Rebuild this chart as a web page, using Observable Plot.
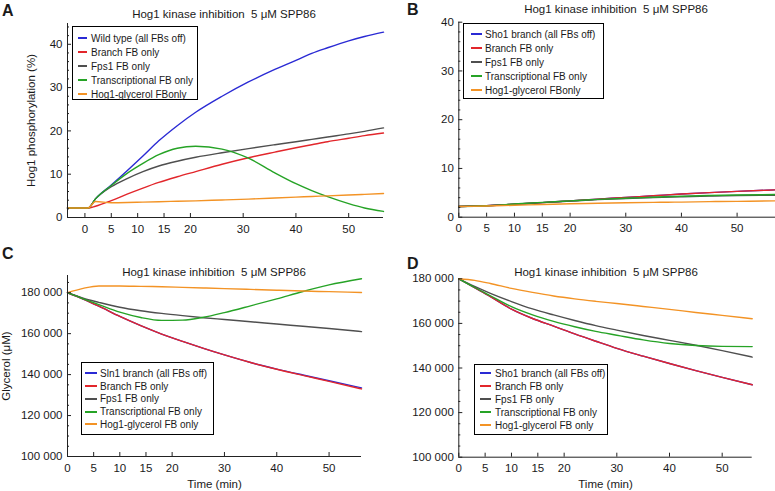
<!DOCTYPE html>
<html><head><meta charset="utf-8">
<script src="https://cdn.jsdelivr.net/npm/d3@7"></script>
<script src="https://cdn.jsdelivr.net/npm/@observablehq/plot@0.6"></script>
<style>
body{margin:0;background:#fff;}
#fig{position:relative;width:775px;height:491px;overflow:hidden;font-family:"Liberation Sans",Arial,sans-serif;color:#1a1a1a;background:#fff;}
.panel{position:absolute;}
.title{position:absolute;font-size:11.5px;white-space:pre;transform:translate(-50%,-50%);line-height:1;}
.letter{position:absolute;font-weight:bold;font-size:16px;line-height:1;}
.legend{position:absolute;border:1px solid #000;box-sizing:border-box;font-size:10px;background:#fff;}
.row{display:flex;align-items:center;white-space:nowrap;box-sizing:border-box;}
.sw{display:inline-block;height:2px;flex:none;}
</style></head><body><div id="fig"></div><script>
// ---------- data ----------
const seriesColors = ["#2a2ad4", "#e2262b", "#4f4f4f", "#26a326", "#f39325"];
const titleText = "Hog1 kinase inhibition  5 \u03bcM SPP86";
const xTicks = [0, 5, 10, 15, 20, 30, 40, 50];

// Panel A: Hog1 phosphorylation (%), Sln1 wild type
const tA = [-3.3, 0.6, 2, 5, 8, 11, 14, 17.5, 21, 26, 31, 36, 40, 43, 46, 50, 53, 56.6];
const aWild   = [2.2, 2.2, 4.3, 7.5, 10.8, 14.2, 17.7, 21.2, 24.3, 28.0, 31.3, 34.2, 36.3, 37.9, 39.2, 40.8, 41.8, 42.8];
const aBranch = [2.2, 2.2, 2.6, 3.9, 5.4, 6.8, 8.1, 9.4, 10.6, 12.3, 13.8, 15.1, 16.1, 16.8, 17.5, 18.3, 18.9, 19.5];
const aFps1   = [2.2, 2.2, 4.3, 7.1, 9.0, 10.6, 11.9, 13.0, 13.9, 14.95, 15.9, 16.8, 17.5, 18.05, 18.6, 19.3, 19.9, 20.7];
const aTransc = [2.2, 2.2, 4.3, 7.4, 10.2, 12.5, 14.5, 16.0, 16.45, 15.8, 13.7, 10.3, 7.8, 6.2, 4.8, 3.2, 2.2, 1.4];
const aGlyc   = [2.2, 2.2, 3.7, 3.4, 3.45, 3.55, 3.65, 3.75, 3.85, 4.05, 4.25, 4.5, 4.7, 4.85, 5.0, 5.2, 5.35, 5.55];
const aLabels = ["Wild type (all FBs off)", "Branch FB only", "Fps1 FB only", "Transcriptional FB only", "Hog1-glycerol FBonly"];

// Panel B: Hog1 phosphorylation (%), Sho1 branch
const tB = [0, 5, 10, 15, 20, 25, 30, 35, 40, 45, 50, 56.9];
const bSho1   = [2.2, 2.35, 2.65, 3.0, 3.35, 3.7, 4.05, 4.4, 4.75, 5.05, 5.3, 5.6];
const bBranch = [2.2, 2.35, 2.65, 3.0, 3.35, 3.7, 4.05, 4.4, 4.75, 5.05, 5.3, 5.6];
const bFps1   = [2.2, 2.35, 2.65, 3.0, 3.3, 3.6, 3.85, 4.05, 4.2, 4.35, 4.45, 4.5];
const bTransc = [2.2, 2.35, 2.7, 3.05, 3.35, 3.65, 3.9, 4.1, 4.3, 4.45, 4.55, 4.65];
const bGlyc   = [2.2, 2.3, 2.45, 2.6, 2.75, 2.85, 2.95, 3.05, 3.1, 3.2, 3.25, 3.35];
const bLabels = ["Sho1 branch (all FBs off)", "Branch FB only", "Fps1 FB only", "Transcriptional FB only", "Hog1-glycerol FBonly"];

// Panel C: Glycerol (uM), Sln1 branch
const tC = [0, 3, 6, 10, 14, 18, 22, 26, 30, 35, 40, 45, 50, 56.2];
const cSln1   = [180000, 176900, 173400, 168400, 163900, 159800, 156200, 152800, 149600, 145900, 142700, 139800, 137000, 133500];
const cBranch = [180000, 176900, 173400, 168400, 163900, 159800, 156200, 152800, 149600, 145900, 142600, 139600, 136700, 133000];
const cFps1   = [180000, 177300, 175300, 172900, 171200, 169900, 168800, 167800, 166900, 165800, 164700, 163600, 162500, 161000];
const cTransc = [180000, 177000, 174200, 170500, 167900, 166500, 166600, 168000, 170300, 173600, 177000, 180600, 183800, 186800];
const cGlyc   = [180000, 182100, 183300, 183300, 183100, 182900, 182600, 182300, 182000, 181600, 181200, 180800, 180500, 180100];
const cLabels = ["Sln1 branch (all FBs off)", "Branch FB only", "Fps1 FB only", "Transcriptional FB only", "Hog1-glycerol FB only"];

// Panel D: Glycerol (uM), Sho1 branch
const tD = [0, 3, 6, 10, 14, 18, 22, 26, 30, 35, 40, 45, 50, 55.7];
const dSho1   = [180000, 176000, 172000, 166400, 162200, 158800, 155300, 152000, 148800, 145300, 142000, 138800, 135800, 132500];
const dBranch = [180000, 176000, 172000, 166400, 162200, 158800, 155300, 152000, 148800, 145300, 142000, 138800, 135800, 132500];
const dFps1   = [180000, 176600, 173500, 169800, 166500, 163800, 161300, 159000, 157000, 154600, 152400, 150200, 147800, 144900];
const dTransc = [180000, 176100, 172400, 167500, 163800, 160900, 158500, 156400, 154700, 152600, 151000, 150100, 149700, 149600];
const dGlyc   = [180000, 179300, 177900, 175700, 173900, 172300, 171000, 169900, 168900, 167600, 166300, 164900, 163600, 162100];
const dLabels = ["Sho1 branch (all FBs off)", "Branch FB only", "Fps1 FB only", "Transcriptional FB only", "Hog1-glycerol FB only"];

const phosMajor = [0, 10, 20, 30, 40];
const phosMinor = [2, 4, 6, 8, 12, 14, 16, 18, 22, 24, 26, 28, 32, 34, 36, 38, 42, 44];
const glyMajor = [100000, 120000, 140000, 160000, 180000];
const glyMinor = [105000, 110000, 115000, 125000, 130000, 135000, 145000, 150000, 155000, 165000, 170000, 175000, 185000];

// ---------- drawing ----------
const FONT = '"Liberation Sans", Arial, sans-serif';
const fig = document.getElementById("fig");
const fmtGly = d => d3.format(",")(d).replace(/,/g, " ");

function panel(cfg) {
  const keys = cfg.labels;
  const data = [];
  cfg.series.forEach((vals, i) => vals.forEach((v, j) => data.push({t: cfg.t[j], v, key: keys[i]})));
  const svg = Plot.plot({
    width: cfg.w, height: cfg.h,
    marginLeft: cfg.mL, marginRight: cfg.mR, marginTop: cfg.mT, marginBottom: cfg.mB,
    x: {domain: cfg.xDom},
    y: {domain: cfg.yDom},
    color: {domain: keys, range: seriesColors},
    style: {fontFamily: FONT, fontSize: "11.5px", color: "#1a1a1a", background: "transparent", overflow: "visible"},
    marks: [
      Plot.line(data, {x: "t", y: "v", z: "key", stroke: "key", strokeWidth: 1.4, curve: "monotone-x"}),
      Plot.ruleX([cfg.xDom[0]], {stroke: "#222", strokeWidth: 1}),
      Plot.ruleY([cfg.yDom[0]], {stroke: "#222", strokeWidth: 1}),
      Plot.axisX(xTicks, {tickSize: 0, tickPadding: 7, label: cfg.xLabel || null, labelAnchor: "center", labelOffset: cfg.xLabelOffset || 0, labelArrow: "none", fontSize: 11.5}),
      Plot.axisX(xTicks, {tickSize: 4, dy: -4, fill: "none", label: null, stroke: "#222"}),
      Plot.axisY(cfg.yMajor, {tickSize: 0, tickPadding: 5, tickFormat: cfg.yFmt, label: cfg.yLabel || null, labelAnchor: "center", labelOffset: cfg.yLabelOffset || 0, labelArrow: "none", fontSize: 11.5}),
      Plot.axisY(cfg.yMajor, {tickSize: 4, dx: 4, fill: "none", label: null, stroke: "#222"}),
      Plot.axisY(cfg.yMinor, {tickSize: 2, dx: 2, fill: "none", label: null, stroke: "#222"})
    ]
  });
  const div = document.createElement("div");
  div.className = "panel";
  div.style.left = cfg.left + "px"; div.style.top = cfg.top + "px";
  div.appendChild(svg);
  fig.appendChild(div);

  const title = document.createElement("div");
  title.className = "title"; title.textContent = titleText;
  title.style.left = cfg.title[0] + "px"; title.style.top = cfg.title[1] + "px";
  fig.appendChild(title);

  const letter = document.createElement("div");
  letter.className = "letter"; letter.textContent = cfg.letter;
  letter.style.left = cfg.letterPos[0] + "px"; letter.style.top = cfg.letterPos[1] + "px";
  fig.appendChild(letter);

  const lg = cfg.legend;
  const box = document.createElement("div");
  box.className = "legend";
  box.style.left = lg.x + "px"; box.style.top = lg.y + "px";
  box.style.width = lg.w + "px"; box.style.height = lg.h + "px";
  box.style.paddingTop = lg.pt + "px";
  keys.forEach((k, i) => {
    const row = document.createElement("div");
    row.className = "row";
    row.style.height = lg.lh + "px";
    row.style.paddingLeft = lg.pl + "px";
    const sw = document.createElement("span");
    sw.className = "sw"; sw.style.width = lg.sw + "px"; sw.style.background = seriesColors[i];
    sw.style.marginRight = lg.gap + "px";
    const tx = document.createElement("span");
    tx.textContent = k;
    row.appendChild(sw); row.appendChild(tx);
    box.appendChild(row);
  });
  fig.appendChild(box);
}

panel({left: 0, top: 0, w: 387, h: 245, mL: 67, mR: 4, mT: 23, mB: 28,
  xDom: [-3.3, 56.6], yDom: [0, 44.8], t: tA,
  series: [aWild, aBranch, aFps1, aTransc, aGlyc], labels: aLabels,
  yMajor: phosMajor, yMinor: phosMinor, yFmt: d => d,
  yLabel: "Hog1 phosphorylation (%)", yLabelOffset: 41,
  title: [224, 15], letter: "A", letterPos: [2, 3],
  legend: {x: 72, y: 26, w: 126, h: 74, pt: 4, lh: 14, pl: 5, sw: 9, gap: 4}});

panel({left: 387, top: 0, w: 388, h: 245, mL: 71.3, mR: 0, mT: 21.7, mB: 28.3,
  xDom: [0, 56.9], yDom: [0, 40], t: tB,
  series: [bSho1, bBranch, bFps1, bTransc, bGlyc], labels: bLabels,
  yMajor: phosMajor, yMinor: phosMinor.filter(d => d <= 40), yFmt: d => d,
  title: [616, 10], letter: "B", letterPos: [407, 2],
  legend: {x: 463, y: 23, w: 141, h: 76, pt: 3, lh: 14, pl: 7, sw: 11, gap: 3}});

panel({left: 0, top: 245, w: 387, h: 246, mL: 67, mR: 26, mT: 30, mB: 35,
  xDom: [0, 56.2], yDom: [100000, 188400], t: tC,
  series: [cSln1, cBranch, cFps1, cTransc, cGlyc], labels: cLabels,
  yMajor: glyMajor, yMinor: glyMinor, yFmt: fmtGly,
  yLabel: "Glycerol (\u03bcM)", yLabelOffset: 66, xLabel: "Time (min)", xLabelOffset: 31,
  title: [214, 273], letter: "C", letterPos: [2, 246],
  legend: {x: 81, y: 362, w: 133, h: 73, pt: 4, lh: 12.75, pl: 3, sw: 12, gap: 3}});

panel({left: 387, top: 245, w: 388, h: 246, mL: 71.3, mR: 23.3, mT: 33.3, mB: 34.3,
  xDom: [0, 55.7], yDom: [100000, 180000], t: tD,
  series: [dSho1, dBranch, dFps1, dTransc, dGlyc], labels: dLabels,
  yMajor: glyMajor, yMinor: glyMinor.filter(d => d <= 180000), yFmt: fmtGly,
  xLabel: "Time (min)", xLabelOffset: 31,
  title: [606, 273], letter: "D", letterPos: [407, 256],
  legend: {x: 474, y: 364, w: 134, h: 71, pt: 2, lh: 12.9, pl: 5, sw: 11, gap: 4}});
</script></body></html>
